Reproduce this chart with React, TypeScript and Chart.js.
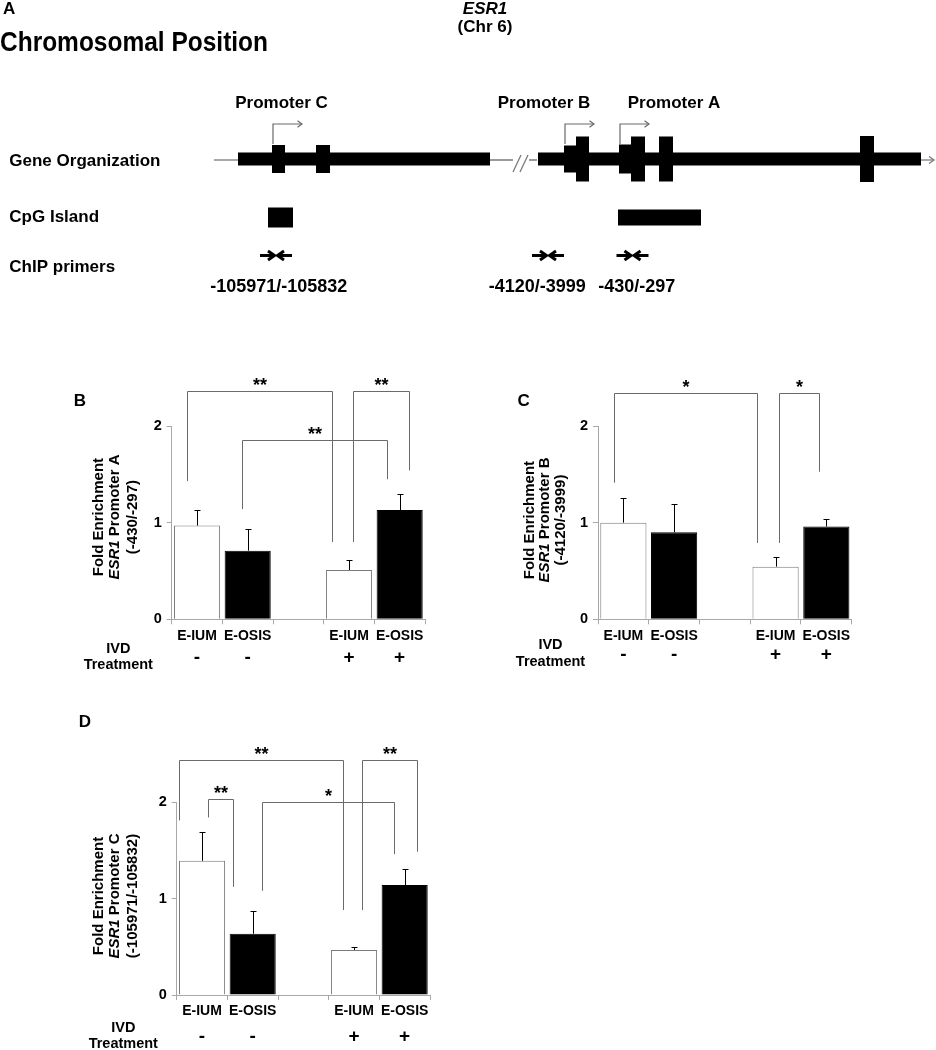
import React, { useEffect, useRef } from 'react';
import { Chart, registerables } from 'chart.js';

Chart.register(...registerables);

const FONT = '"Liberation Sans", Arial, Helvetica, sans-serif';
const AXIS = '#a8a8a8';
const BRACKET = '#6a6a6a';

// ---------------- Panel A : ESR1 locus map (diagram units) ----------------
const trackLabels = ['Gene Organization', 'CpG Island', 'ChIP primers'];
const promoterNames = ['Promoter C', 'Promoter B', 'Promoter A'];
const promoterLabelAt = [281.5, 544, 674];
const backboneSegments = [[214, 238], [490, 537], [921, 933]];
const transcriptStarts = [238, 538];
const transcriptEnds = [490, 921];
const exonStarts = [272, 316, 564, 576, 619, 631, 659, 860];
const exonEnds = [285, 330, 577, 589, 632, 645, 673, 874];
const exonHalfHeights = [14, 14, 13.5, 22.5, 14.5, 22.5, 22.5, 23];
const tssAt = [273, 565, 620];
const cpgStarts = [268, 618];
const cpgEnds = [293, 701];
const cpgHalfHeights = [10, 8];
const primerCenters = [276, 548, 632.5];
const primerLabels = ['-105971/-105832', '-4120/-3999', '-430/-297'];
const primerLabelAt = [278.7, 537.3, 636.7];

// ---------------- Panels B-D : ChIP fold enrichment ----------------
const categories = ['E-IUM', 'E-OSIS', '', 'E-IUM', 'E-OSIS'];
const treatmentSigns = ['-', '-', '', '+', '+'];
const yTicks = [0, 1, 2];

const promAMeans = [0.97, 0.71, null, 0.51, 1.13];
const promAErrors = [0.16, 0.22, null, 0.1, 0.17];
const promBMeans = [1.0, 0.9, null, 0.545, 0.96];
const promBErrors = [0.25, 0.29, null, 0.095, 0.08];
const promCMeans = [1.39, 0.635, null, 0.466, 1.14];
const promCErrors = [0.3, 0.235, null, 0.034, 0.165];

// significance brackets (x in category index units, y in fold enrichment)
const promABrFrom = [-0.2, 3.085, 0.88];
const promABrTo = [2.66, 4.19, 3.745];
const promABrTop = [2.36, 2.36, 1.855];
const promABrFromEnd = [1.43, 0.8, 1.14];
const promABrToEnd = [0.8, 1.54, 1.45];
const promABrMark = ['**', '**', '**'];

const promBBrFrom = [-0.185, 3.073];
const promBBrTo = [2.64, 3.86];
const promBBrTop = [2.345, 2.345];
const promBBrFromEnd = [1.413, 0.79];
const promBBrToEnd = [0.79, 1.527];
const promBBrMark = ['*', '*'];

const promCBrFrom = [-0.455, 3.152, 0.124, 1.178];
const promCBrTo = [2.777, 4.25, 0.617, 3.79];
const promCBrTop = [2.435, 2.435, 2.03, 2.0];
const promCBrFromEnd = [1.81, 0.88, 1.84, 1.08];
const promCBrToEnd = [0.88, 1.485, 1.12, 1.46];
const promCBrMark = ['**', '**', '**', '*'];

const barFill = ['#ffffff', '#000000', '#ffffff', '#ffffff', '#000000'];
const barEdge = ['#7a7a7a', '#000000', '#7a7a7a', '#7a7a7a', '#000000'];

// ---------------- helpers ----------------
function drawText(
  ctx: CanvasRenderingContext2D,
  s: string,
  x: number,
  y: number,
  size: number,
  align: CanvasTextAlign = 'left',
  italic = false,
  fitWidth?: number,
  baseline: CanvasTextBaseline = 'middle'
) {
  ctx.save();
  ctx.font = `${italic ? 'italic ' : ''}bold ${size}px ${FONT}`;
  ctx.fillStyle = '#000';
  ctx.textBaseline = baseline;
  ctx.textAlign = align;
  const w = ctx.measureText(s).width;
  const sx = fitWidth ? fitWidth / w : 1;
  ctx.translate(x, y);
  ctx.scale(sx, 1);
  ctx.fillText(s, 0, 0);
  ctx.restore();
}

function openHead(ctx: CanvasRenderingContext2D, x: number, y: number, dir: number, size: number) {
  ctx.beginPath();
  ctx.moveTo(x - dir * size, y - size * 0.7);
  ctx.lineTo(x, y);
  ctx.lineTo(x - dir * size, y + size * 0.7);
  ctx.stroke();
}

const MAP = { geneY: 159, thickHalf: 6.5, tssTop: 124, tssLen: 29, promoterY: 103, cpgY: 217.5, primerY: 255.5, primerLabelY: 287.5 };

const geneMapPlugin = {
  id: 'geneMap',
  afterDraw(chart: any) {
    const { ctx } = chart;
    const X = (v: number) => chart.scales.x.getPixelForValue(v);
    const Y = (v: number) => chart.scales.y.getPixelForValue(v);
    ctx.save();
    // headings
    drawText(ctx, 'A', X(3), Y(9.5), 17);
    drawText(ctx, 'Chromosomal Position', X(0), Y(43.5), 28, 'left', false, 268);
    drawText(ctx, 'ESR1', X(485), Y(9.5), 17, 'center', true);
    drawText(ctx, '(Chr 6)', X(485), Y(27), 17, 'center');
    promoterNames.forEach((n, i) => drawText(ctx, n, X(promoterLabelAt[i]), Y(MAP.promoterY), 17, 'center'));
    const rowY = [161, 217.7, 267.3];
    trackLabels.forEach((n, i) => drawText(ctx, n, X(9.3), Y(rowY[i]), 17));

    // backbone
    ctx.strokeStyle = '#7a7a7a';
    ctx.lineWidth = 1.3;
    backboneSegments.forEach(([a, b]) => {
      ctx.beginPath();
      ctx.moveTo(X(a), Y(MAP.geneY + 1));
      ctx.lineTo(X(b), Y(MAP.geneY + 1));
      ctx.stroke();
    });
    openHead(ctx, X(934), Y(MAP.geneY + 1), 1, 5);
    // break marks //
    ctx.fillStyle = '#fff';
    ctx.fillRect(X(513), Y(154), X(529) - X(513), 20);
    ctx.beginPath();
    ctx.moveTo(X(513), Y(172)); ctx.lineTo(X(521), Y(155));
    ctx.moveTo(X(520), Y(172)); ctx.lineTo(X(528), Y(155));
    ctx.stroke();

    // transcript blocks and exons
    ctx.fillStyle = '#000';
    transcriptStarts.forEach((s, i) => {
      ctx.fillRect(X(s), Y(MAP.geneY - MAP.thickHalf), X(transcriptEnds[i]) - X(s), Y(MAP.geneY + MAP.thickHalf) - Y(MAP.geneY - MAP.thickHalf));
    });
    exonStarts.forEach((s, i) => {
      const h = exonHalfHeights[i];
      ctx.fillRect(X(s), Y(MAP.geneY - h), X(exonEnds[i]) - X(s), Y(MAP.geneY + h) - Y(MAP.geneY - h));
    });

    // transcription start arrows
    ctx.strokeStyle = '#6a6a6a';
    ctx.lineWidth = 1.2;
    tssAt.forEach((t) => {
      const bottom = MAP.geneY - 15;
      ctx.beginPath();
      ctx.moveTo(X(t), Y(bottom));
      ctx.lineTo(X(t), Y(MAP.tssTop));
      ctx.lineTo(X(t + MAP.tssLen), Y(MAP.tssTop));
      ctx.stroke();
      openHead(ctx, X(t + MAP.tssLen), Y(MAP.tssTop), 1, 4.5);
    });

    // CpG islands
    ctx.fillStyle = '#000';
    cpgStarts.forEach((s, i) => {
      const h = cpgHalfHeights[i];
      ctx.fillRect(X(s), Y(MAP.cpgY - h), X(cpgEnds[i]) - X(s), Y(MAP.cpgY + h) - Y(MAP.cpgY - h));
    });

    // ChIP primers (converging arrows)
    ctx.strokeStyle = '#000';
    ctx.lineWidth = 3;
    ctx.lineCap = 'butt';
    ctx.lineJoin = 'miter';
    primerCenters.forEach((c) => {
      const yy = Y(MAP.primerY);
      ctx.beginPath();
      ctx.moveTo(X(c - 16), yy); ctx.lineTo(X(c - 3), yy);
      ctx.moveTo(X(c + 16), yy); ctx.lineTo(X(c + 3), yy);
      ctx.stroke();
      openHead(ctx, X(c - 1.5), yy, 1, 6.5);
      openHead(ctx, X(c + 1.5), yy, -1, 6.5);
    });
    primerLabels.forEach((l, i) => drawText(ctx, l, X(primerLabelAt[i]), Y(MAP.primerLabelY), 18, 'center'));
    ctx.restore();
  },
};

const panelPlugin = {
  id: 'panelDeco',
  afterDatasetsDraw(chart: any, _args: any, o: any) {
    const { ctx, chartArea: ca } = chart;
    const x = chart.scales.x;
    const y = chart.scales.y;
    const meta = chart.getDatasetMeta(0);
    ctx.save();
    // error bars (upper only)
    ctx.strokeStyle = '#000';
    ctx.lineWidth = 1;
    o.means.forEach((m: number | null, i: number) => {
      const e = o.errs[i];
      if (m == null || e == null) return;
      const cx = Math.round(meta.data[i].x) + 0.5;
      const y0 = y.getPixelForValue(m);
      const y1 = Math.round(y.getPixelForValue(m + e)) + 0.5;
      ctx.beginPath();
      ctx.moveTo(cx, y0);
      ctx.lineTo(cx, y1);
      ctx.moveTo(cx - 3, y1);
      ctx.lineTo(cx + 3, y1);
      ctx.stroke();
    });
    // significance brackets
    ctx.strokeStyle = BRACKET;
    ctx.lineWidth = 1;
    o.brFrom.forEach((f: number, i: number) => {
      const x1 = Math.round(x.getPixelForValue(f)) + 0.5;
      const x2 = Math.round(x.getPixelForValue(o.brTo[i])) + 0.5;
      const yt = Math.round(y.getPixelForValue(o.brTop[i])) + 0.5;
      const ya = y.getPixelForValue(o.brFromEnd[i]);
      const yb = y.getPixelForValue(o.brToEnd[i]);
      ctx.beginPath();
      ctx.moveTo(x1, ya);
      ctx.lineTo(x1, yt);
      ctx.lineTo(x2, yt);
      ctx.lineTo(x2, yb);
      ctx.stroke();
      drawText(ctx, o.brMark[i], (x1 + x2) / 2, yt - 1, 18, 'center', false, undefined, 'alphabetic');
    });
    // y-axis title (3 rotated lines)
    const cy = (ca.top + ca.bottom) / 2 + o.titleDy;
    const size = 15;
    const lines = [
      [{ t: 'Fold Enrichment', it: false }],
      [{ t: 'ESR1', it: true }, { t: ' ' + o.promoter, it: false }],
      [{ t: o.coords, it: false }],
    ];
    lines.forEach((parts, li) => {
      ctx.save();
      ctx.translate(ca.left + o.titleDx[li], cy);
      ctx.rotate(-Math.PI / 2);
      let total = 0;
      const widths = parts.map((p) => {
        ctx.font = `${p.it ? 'italic ' : ''}bold ${size}px ${FONT}`;
        const w = ctx.measureText(p.t).width;
        total += w;
        return w;
      });
      let px = -total / 2;
      parts.forEach((p, k) => {
        ctx.font = `${p.it ? 'italic ' : ''}bold ${size}px ${FONT}`;
        ctx.fillStyle = '#000';
        ctx.textBaseline = 'middle';
        ctx.textAlign = 'left';
        ctx.fillText(p.t, px, 0);
        px += widths[k];
      });
      ctx.restore();
    });
    // treatment rows
    drawText(ctx, 'IVD', ca.left + o.rowDx, ca.bottom + o.rowDy[0], 14.5, 'center');
    drawText(ctx, 'Treatment', ca.left + o.rowDx, ca.bottom + o.rowDy[2], 14.5, 'center');
    treatmentSigns.forEach((s, i) => {
      if (!s) return;
      drawText(ctx, s, x.getPixelForValue(i), ca.bottom + o.rowDy[1], 19, 'center');
    });
    // panel letter
    drawText(ctx, o.letter, ca.left + o.letterAt[0], ca.top + o.letterAt[1], 17, 'center');
    ctx.restore();
  },
};

const YW = 40;
const XH = 30;

type Box = { left: number; top: number; width: number; height: number };
type Area = { l: number; t: number; r: number; b: number };

function barConfig(box: Box, area: Area, deco: any) {
  return {
    type: 'bar',
    data: {
      labels: categories,
      datasets: [
        {
          data: deco.means,
          backgroundColor: barFill,
          borderColor: barEdge,
          borderWidth: 1,
          barPercentage: 0.91,
          categoryPercentage: 1,
        },
      ],
    },
    options: {
      responsive: false,
      animation: false,
      devicePixelRatio: 1,
      events: [],
      layout: {
        padding: {
          left: area.l - box.left - YW,
          top: area.t - box.top,
          right: box.left + box.width - area.r,
          bottom: box.top + box.height - area.b - XH,
        },
      },
      plugins: {
        legend: { display: false },
        tooltip: { enabled: false },
        title: { display: false },
        panelDeco: deco,
      },
      scales: {
        x: {
          grid: { display: true, drawOnChartArea: false, drawTicks: true, tickLength: 5, color: AXIS, offset: true },
          border: { display: true, color: AXIS, width: 1 },
          ticks: { color: '#000', font: { family: FONT, size: 14, weight: 'bold' }, padding: 3, maxRotation: 0, autoSkip: false },
          afterFit: (s: any) => {
            s.height = XH;
          },
        },
        y: {
          min: yTicks[0],
          max: yTicks[yTicks.length - 1],
          grid: { display: true, drawOnChartArea: false, drawTicks: true, tickLength: 5, color: AXIS },
          border: { display: true, color: AXIS, width: 1 },
          ticks: { stepSize: 1, color: '#000', font: { family: FONT, size: 14.5, weight: 'bold' }, padding: 5 },
          afterFit: (s: any) => {
            s.width = YW;
          },
        },
      },
    },
    plugins: [panelPlugin],
  };
}

const panels = [
  {
    key: 'B',
    box: { left: 40, top: 330, width: 420, height: 350 },
    area: { l: 171.7, t: 426, r: 425, b: 619.3 },
    deco: {
      letter: 'B', letterAt: [-91.7, -25],
      means: promAMeans, errs: promAErrors,
      brFrom: promABrFrom, brTo: promABrTo, brTop: promABrTop, brFromEnd: promABrFromEnd, brToEnd: promABrToEnd, brMark: promABrMark,
      promoter: 'Promoter A', coords: '(-430/-297)',
      titleDx: [-72.7, -56.7, -39], titleDy: -5.6,
      rowDx: -53.4, rowDy: [30, 38, 46],
    },
  },
  {
    key: 'C',
    box: { left: 480, top: 330, width: 420, height: 350 },
    area: { l: 598, t: 426, r: 851.7, b: 619.3 },
    deco: {
      letter: 'C', letterAt: [-74.3, -24.3],
      means: promBMeans, errs: promBErrors,
      brFrom: promBBrFrom, brTo: promBBrTo, brTop: promBBrTop, brFromEnd: promBBrFromEnd, brToEnd: promBBrToEnd, brMark: promBBrMark,
      promoter: 'Promoter B', coords: '(-4120/-3999)',
      titleDx: [-68, -53, -37.5], titleDy: -2.6,
      rowDx: -47.5, rowDy: [26, 35, 42.4],
    },
  },
  {
    key: 'D',
    box: { left: 40, top: 690, width: 420, height: 360 },
    area: { l: 176.7, t: 802, r: 430, b: 995 },
    deco: {
      letter: 'D', letterAt: [-91.7, -80],
      means: promCMeans, errs: promCErrors,
      brFrom: promCBrFrom, brTo: promCBrTo, brTop: promCBrTop, brFromEnd: promCBrFromEnd, brToEnd: promCBrToEnd, brMark: promCBrMark,
      promoter: 'Promoter C', coords: '(-105971/-105832)',
      titleDx: [-77.7, -61.7, -43.7], titleDy: -2.5,
      rowDx: -53.4, rowDy: [33.3, 41.7, 49.3],
    },
  },
];

function ChartCanvas({ box, make }: { box: Box; make: () => any }) {
  const ref = useRef<HTMLCanvasElement>(null);
  useEffect(() => {
    const chart = new Chart(ref.current as HTMLCanvasElement, make());
    return () => chart.destroy();
  }, []);
  return (
    <canvas
      ref={ref}
      width={box.width}
      height={box.height}
      style={{ position: 'absolute', left: box.left, top: box.top, width: box.width, height: box.height }}
    />
  );
}

const mapBox = { left: 0, top: 0, width: 936, height: 320 };

function mapConfig() {
  return {
    type: 'scatter',
    data: { datasets: [] },
    options: {
      responsive: false,
      animation: false,
      devicePixelRatio: 1,
      events: [],
      layout: { padding: 0 },
      plugins: { legend: { display: false }, tooltip: { enabled: false } },
      scales: {
        x: { type: 'linear', min: 0, max: mapBox.width, display: false },
        y: { type: 'linear', min: 0, max: mapBox.height, reverse: true, display: false },
      },
    },
    plugins: [geneMapPlugin],
  };
}

export default function App() {
  return (
    <div style={{ position: 'absolute', left: 0, top: 0, width: 936, height: 1050, background: '#fff', overflow: 'hidden' }}>
      <ChartCanvas box={mapBox} make={mapConfig} />
      {panels.map((p) => (
        <ChartCanvas key={p.key} box={p.box} make={() => barConfig(p.box, p.area, p.deco)} />
      ))}
    </div>
  );
}
